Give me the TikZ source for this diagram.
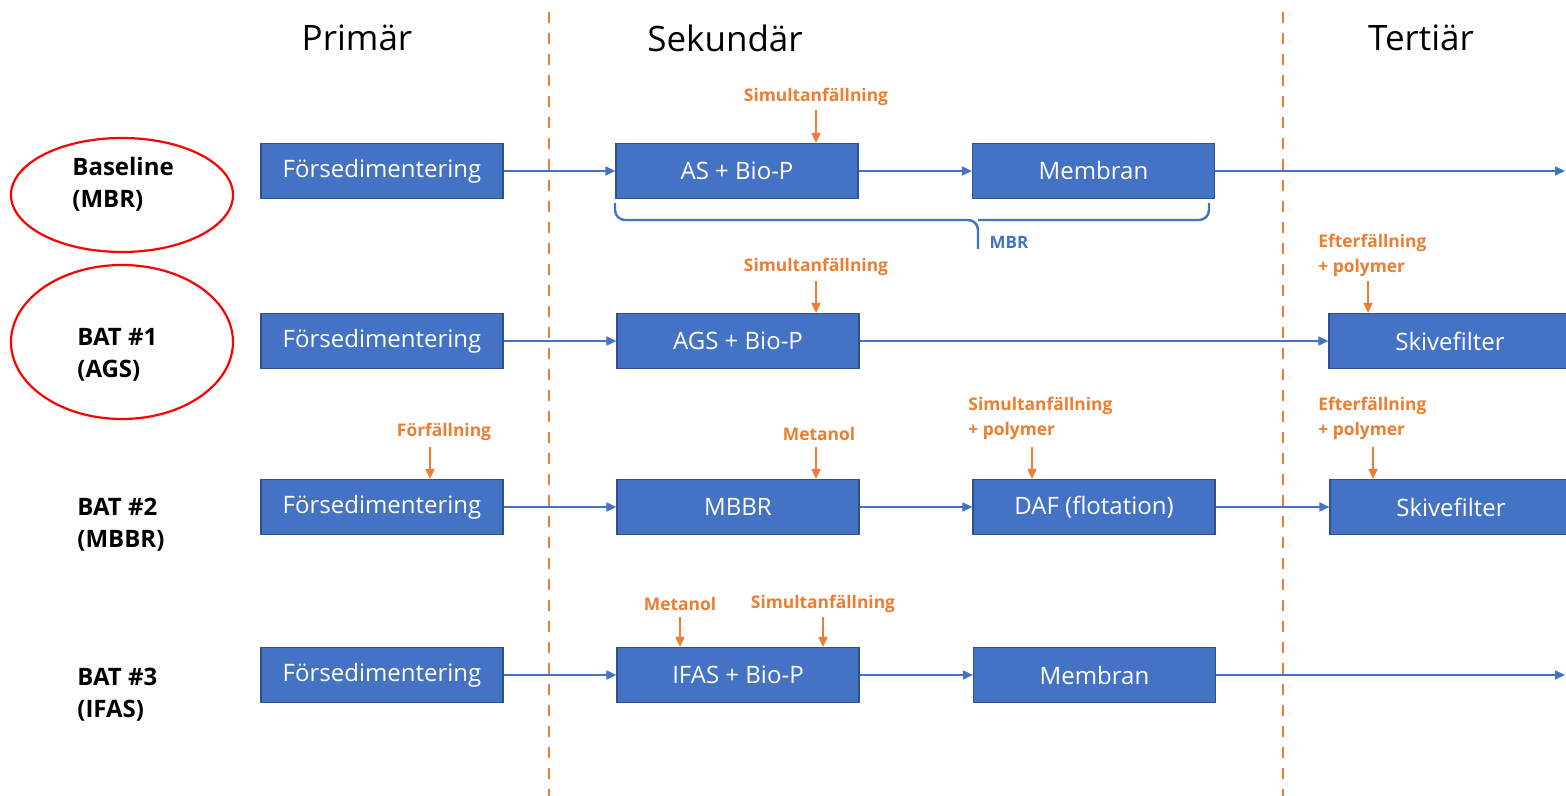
\documentclass[tikz,border=0pt]{standalone}
\usepackage{fontspec}
\setmainfont{Open Sans}
\usetikzlibrary{arrows.meta}
\definecolor{boxblue}{HTML}{4472C4}
\definecolor{boxedge}{HTML}{2F528F}
\definecolor{dosing}{HTML}{ED7D31}
\definecolor{ringred}{HTML}{FF0000}
\tikzset{
  stage/.style={draw=boxedge, line width=0.6pt, fill=boxblue, text=white,
    minimum width=121pt, minimum height=27.5pt, inner sep=0pt,
    font=\fontsize{12}{14}\selectfont},
  flow/.style={draw=boxblue, line width=0.9pt, -{Triangle[length=5pt,width=4.5pt]}},
  feed/.style={draw=dosing, line width=0.9pt, -{Triangle[length=5pt,width=4.5pt]}},
  dose/.style={text=dosing, font=\bfseries\fontsize{8.7}{12.5}\selectfont, inner sep=0pt},
  head/.style={font=\fontsize{17.5}{20}\selectfont, inner sep=0pt},
  rowlab/.style={font=\bfseries\fontsize{12}{16}\selectfont, align=left, inner sep=0pt, anchor=west},
  divider/.style={draw=dosing, line width=1.2pt, dash pattern=on 5.5pt off 5pt},
  ring/.style={draw=ringred, line width=1.1pt}
}
\begin{document}
\begin{tikzpicture}[x=0.5pt,y=-0.5pt]
\clip (0,0) rectangle (1566,796);
\fill[white] (0,0) rectangle (1566,796);

% stage dividers
\draw[divider] (549,12) -- (549,796);
\draw[divider] (1283,12) -- (1283,796);

% column headings
\node[head] (hp) at (357,38) {Primär};
\node[head] (hs) at (725,38) {Sekundär};
\node[head] (ht) at (1421,38) {Tertiär};

% highlighted alternatives
\draw[ring] (122,195) ellipse [x radius=111, y radius=57];
\draw[ring] (122,342) ellipse [x radius=111, y radius=77];

% row labels
\node[rowlab] (l1) at (72,184) {Baseline\\(MBR)};
\node[rowlab] (l2) at (77,355) {BAT \#1\\(AGS)};
\node[rowlab] (l3) at (77,525) {BAT \#2\\(MBBR)};
\node[rowlab] (l4) at (77,695) {BAT \#3\\(IFAS)};

% row 1: baseline MBR
\node[stage] (a1) at (382,171) {Försedimentering};
\node[stage] (a2) at (737,171) {AS + Bio-P};
\node[stage] (a3) at (1093.5,171) {Membran};
\coordinate (a4) at (1565,171);
\draw[flow] (a1) -- (a2);
\draw[flow] (a2) -- (a3);
\draw[flow] (a3) -- (a4);
\node[dose] (d1) at (816,97) {Simultanfällning};
\coordinate (d1s) at (816,110);
\draw[feed] (d1s) -- (d1s |- a2.north);

% MBR brace
\coordinate (bl) at (615,203);
\coordinate (br) at (1209,203);
\coordinate (bt) at (978,249);
\draw[draw=boxblue, line width=1.2pt, rounded corners=5pt]
  (bl) -- (bl |- 0,220) -- (bt |- 0,220) -- (bt);
\draw[draw=boxblue, line width=1.2pt, rounded corners=5pt]
  (br) -- (br |- 0,220) -- (bt |- 0,220);
\node[text=boxblue, font=\bfseries\fontsize{8.5}{10}\selectfont, inner sep=0pt] (mbr) at (1009,242) {MBR};

% row 2: AGS
\node[stage] (b1) at (382,341) {Försedimentering};
\node[stage] (b2) at (738,341) {AGS + Bio-P};
\node[stage] (b3) at (1450,341) {Skivefilter};
\draw[flow] (b1) -- (b2);
\draw[flow] (b2) -- (b3);
\node[dose] (d2) at (816,267) {Simultanfällning};
\coordinate (d2s) at (816,281);
\draw[feed] (d2s) -- (d2s |- b2.north);
\node[dose, align=left, anchor=west] (d3) at (1318,255.5) {Efterfällning\\+ polymer};
\coordinate (d3s) at (1368,281);
\draw[feed] (d3s) -- (d3s |- b3.north);

% row 3: MBBR
\node[stage] (c1) at (382,507) {Försedimentering};
\node[stage] (c2) at (738,507) {MBBR};
\node[stage] (c3) at (1094,507) {DAF (flotation)};
\node[stage] (c4) at (1451,507) {Skivefilter};
\draw[flow] (c1) -- (c2);
\draw[flow] (c2) -- (c3);
\draw[flow] (c3) -- (c4);
\node[dose] (d4) at (444,432) {Förfällning};
\coordinate (d4s) at (430,447);
\draw[feed] (d4s) -- (d4s |- c1.north);
\node[dose] (d5) at (819,434) {Metanol};
\coordinate (d5s) at (816,447);
\draw[feed] (d5s) -- (d5s |- c2.north);
\node[dose, align=left, anchor=west] (d6) at (968,418.5) {Simultanfällning\\+ polymer};
\coordinate (d6s) at (1032,447);
\draw[feed] (d6s) -- (d6s |- c3.north);
\node[dose, align=left, anchor=west] (d7) at (1318,418.5) {Efterfällning\\+ polymer};
\coordinate (d7s) at (1373,447);
\draw[feed] (d7s) -- (d7s |- c4.north);

% row 4: IFAS
\node[stage] (e1) at (382,675) {Försedimentering};
\node[stage] (e2) at (738,675) {IFAS + Bio-P};
\node[stage] (e3) at (1094.5,675) {Membran};
\coordinate (e4) at (1565,675);
\draw[flow] (e1) -- (e2);
\draw[flow] (e2) -- (e3);
\draw[flow] (e3) -- (e4);
\node[dose] (d8) at (680,604) {Metanol};
\coordinate (d8s) at (680,617);
\draw[feed] (d8s) -- (d8s |- e2.north);
\node[dose] (d9) at (823,604) {Simultanfällning};
\coordinate (d9s) at (823,617);
\draw[feed] (d9s) -- (d9s |- e2.north);
\end{tikzpicture}
\end{document}
